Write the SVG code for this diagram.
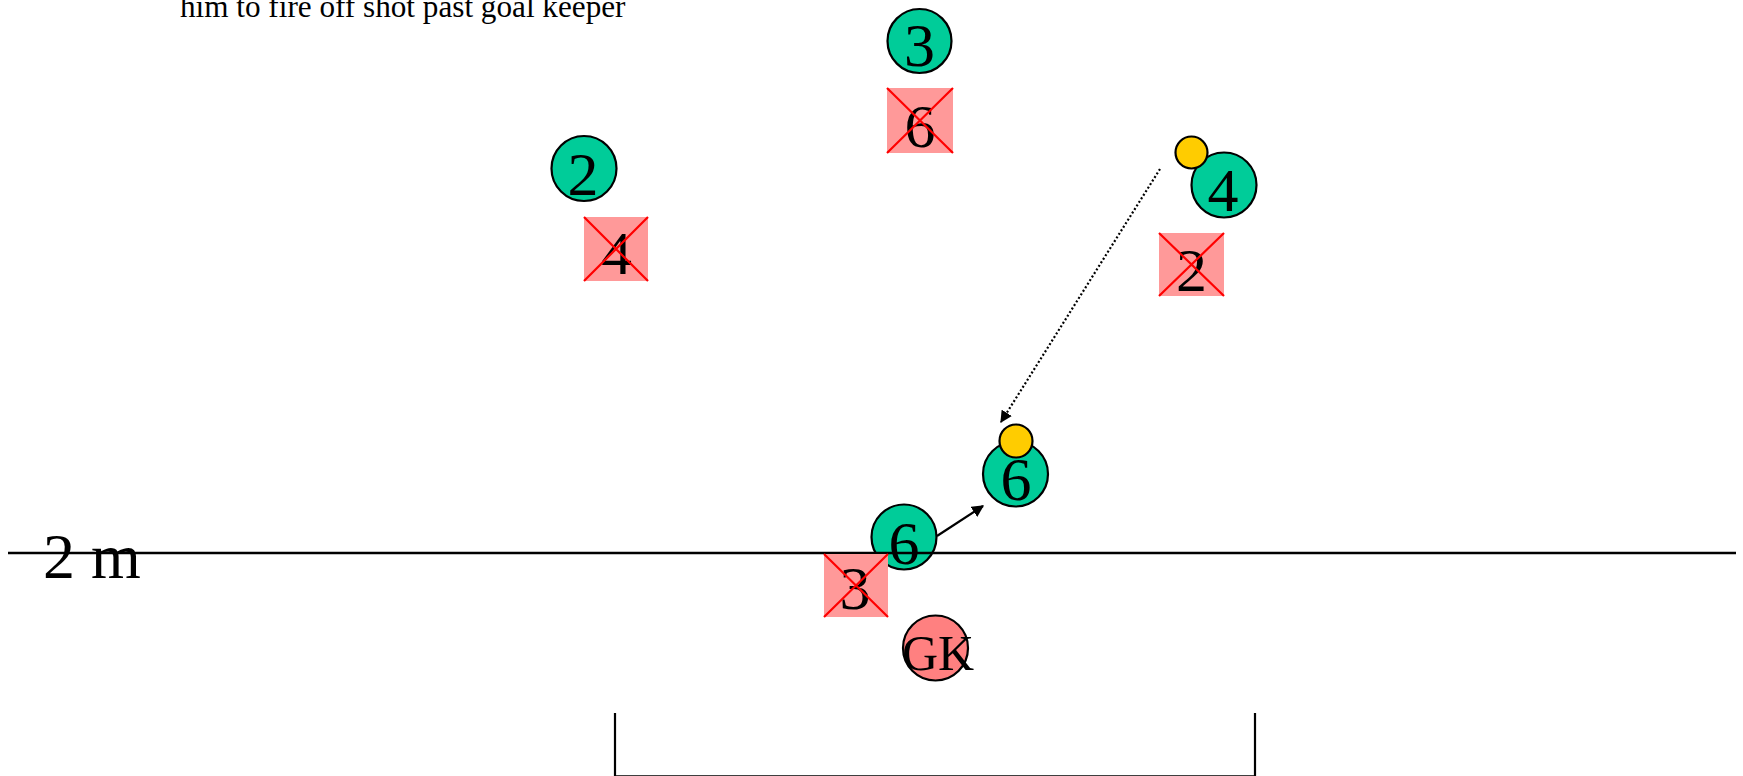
<svg xmlns="http://www.w3.org/2000/svg" width="1743" height="776" viewBox="0 0 1743 776">
<defs>
<style>
.t{font-family:"Liberation Serif","Times New Roman",serif;fill:#000}
.num{font-size:62px;text-anchor:middle}
.pl{fill:#00CC99;stroke:#000;stroke-width:2.2}
.df{fill:#FF9999;stroke:none}
.x{stroke:#FF0000;stroke-width:2.2}
.ball{fill:#FFCC00;stroke:#000;stroke-width:2.2}
.gk{fill:#FF8080;stroke:#000;stroke-width:2.2}
.ln{stroke:#000;fill:none}
</style>
<marker id="ah" viewBox="0 0 10 10" refX="9" refY="5" markerWidth="12" markerHeight="12" markerUnits="userSpaceOnUse" orient="auto">
<path d="M0,0 L10,5 L0,10 z" fill="#000"/>
</marker>
</defs>
<rect width="1743" height="776" fill="#fff"/>

<text class="t" x="180" y="17" font-size="31.2">him to fire off shot past goal keeper</text>

<g id="goal">
<path class="ln" stroke-width="2.2" d="M615,713 V776.3 H1255 V713"/>
</g>

<g id="attacker-3"><circle class="pl" cx="919.5" cy="41" r="32"/><text class="t num" x="919.5" y="66">3</text></g>
<g id="defender-6"><rect class="df" x="887" y="88" width="66" height="65"/><text class="t num" x="920" y="147">6</text><path class="x" d="M887,88 L953,153 M953,88 L887,153"/></g>

<g id="attacker-2"><circle class="pl" cx="584" cy="168.5" r="32.5"/><text class="t num" x="583" y="195">2</text></g>
<g id="defender-4"><rect class="df" x="584" y="217" width="64" height="64"/><text class="t num" x="616.5" y="274">4</text><path class="x" d="M584,217 L648,281 M648,217 L584,281"/></g>

<g id="attacker-4"><circle class="pl" cx="1224" cy="185" r="32.5"/><text class="t num" x="1223" y="211">4</text><circle class="ball" cx="1191.5" cy="152.5" r="16"/></g>
<g id="defender-2"><rect class="df" x="1159" y="233" width="65" height="63"/><text class="t num" x="1191.5" y="291">2</text><path class="x" d="M1159,233 L1224,296 M1224,233 L1159,296"/></g>

<g id="attacker-6-new"><circle class="pl" cx="1015.5" cy="474" r="32.5"/><text class="t num" x="1016" y="500">6</text><circle class="ball" cx="1016" cy="441" r="16.5"/></g>

<g id="attacker-6"><circle class="pl" cx="904" cy="537" r="32.5"/><text class="t num" x="904" y="564">6</text></g>

<g id="line-2m">
<line class="ln" x1="8" y1="553" x2="1736" y2="553" stroke-width="2.5"/>
<text class="t" x="43" y="578" font-size="64">2 m</text>
</g>

<g id="defender-3"><rect class="df" x="824" y="554" width="64" height="63"/><text class="t num" x="855" y="609">3</text><path class="x" d="M824,554 L888,617 M888,554 L824,617"/></g>

<g id="goalkeeper"><circle class="gk" cx="935.5" cy="648" r="32.5"/><text class="t" x="938" y="670" font-size="50" text-anchor="middle">GK</text></g>

<g id="connectors">
<line class="ln" x1="1160" y1="169" x2="1001" y2="422" stroke-width="2.2" stroke-dasharray="2 2.2" marker-end="url(#ah)"/>
<line class="ln" x1="937" y1="536" x2="983" y2="506" stroke-width="2.2" marker-end="url(#ah)"/>
</g>
</svg>
